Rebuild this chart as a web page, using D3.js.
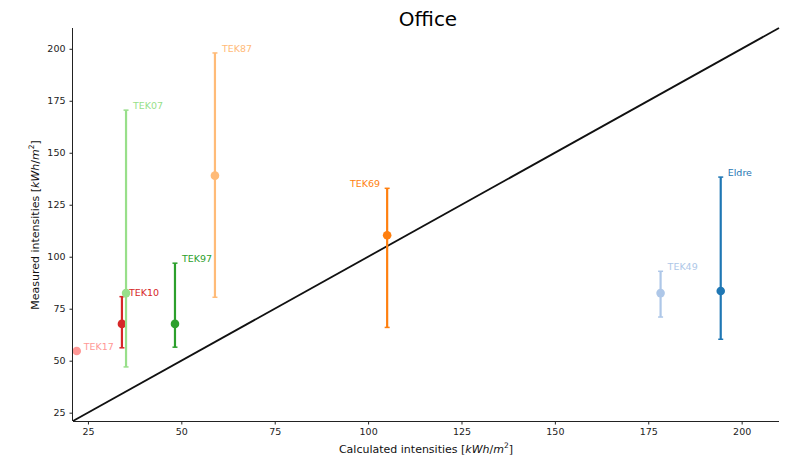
<!DOCTYPE html>
<html><head><meta charset="utf-8">
<script src="https://cdn.jsdelivr.net/npm/d3@7"></script>
<style>body{margin:0;background:#fff;} text{font-family:"DejaVu Sans",sans-serif;}</style>
</head><body>
<svg id="c" width="788" height="458"></svg>
<script>
const names = ["TEK17","TEK10","TEK07","TEK97","TEK87","TEK69","TEK49","Eldre"];
const calculated = [22.0, 34.1, 35.2, 48.3, 59.0, 105.1, 178.3, 194.4];
const measured = [54.7, 67.7, 82.5, 67.7, 139.0, 110.3, 82.5, 83.5];
const errLow = [null, 56.2, 47.0, 56.5, 80.5, 66.0, 71.0, 60.3];
const errHigh = [null, 80.8, 170.5, 96.9, 198.0, 132.9, 93.0, 138.3];
const colors = ["#ff9896","#d62728","#98df8a","#2ca02c","#ffbb78","#ff7f0e","#aec7e8","#1f77b4"];
const labelLeft = [false,false,false,false,false,true,false,false];
const xTicks = [25,50,75,100,125,150,175,200];
const yTicks = [25,50,75,100,125,150,175,200];
const domain = [21, 210];

const svg = d3.select("#c");
const L=73, R=779, T=28, B=421;
const x = d3.scaleLinear().domain(domain).range([L,R]);
const y = d3.scaleLinear().domain(domain).range([B,T]);

// identity line
svg.append("line").attr("x1",x(domain[0])).attr("y1",y(domain[0]))
  .attr("x2",x(domain[1])).attr("y2",y(domain[1]))
  .attr("stroke","#111").attr("stroke-width",1.8);

const data = names.map((n,i)=>({n,x:calculated[i],y:measured[i],lo:errLow[i],hi:errHigh[i],c:colors[i],left:labelLeft[i]}));
const g = svg.append("g");
data.forEach(d=>{
  if(d.lo!=null){
    g.append("line").attr("x1",x(d.x)).attr("x2",x(d.x)).attr("y1",y(d.lo)).attr("y2",y(d.hi))
      .attr("stroke",d.c).attr("stroke-width",2.2);
    [d.lo,d.hi].forEach(v=>g.append("line").attr("x1",x(d.x)-2.5).attr("x2",x(d.x)+2.5)
      .attr("y1",y(v)).attr("y2",y(v)).attr("stroke",d.c).attr("stroke-width",1.5));
  }
  g.append("circle").attr("cx",x(d.x)).attr("cy",y(d.y)).attr("r",4.3).attr("fill",d.c);
  const top = d.hi!=null ? y(d.hi) : y(d.y);
  g.append("text").attr("x", d.left ? x(d.x)-7 : x(d.x)+7).attr("y", top-1)
    .attr("text-anchor", d.left?"end":"start").attr("font-size",9.5).attr("fill",d.c).text(d.n);
});

const xa = svg.append("g").attr("transform",`translate(0,${B})`)
  .call(d3.axisBottom(x).tickValues(xTicks).tickSize(3.5).tickPadding(4));
const ya = svg.append("g").attr("transform",`translate(${L},0)`)
  .call(d3.axisLeft(y).tickValues(yTicks).tickSize(3.5).tickPadding(4));
[xa,ya].forEach(a=>{a.selectAll("text").attr("font-size",9.5).attr("fill","#222").attr("font-family","DejaVu Sans Condensed, DejaVu Sans");
  a.select(".domain").attr("stroke","#222").attr("stroke-width",1);
  a.selectAll(".tick line").attr("stroke","#222");});
// rebuild domain paths without outer ticks
xa.select(".domain").attr("d",`M${L},0.5H${R}`);
ya.select(".domain").attr("d",`M-0.5,${B}V${T}`);

svg.append("text").attr("x",428).attr("y",26).attr("text-anchor","middle").attr("font-size",20).attr("fill","#000").text("Office");

const xl = svg.append("text").attr("x",426).attr("y",453).attr("text-anchor","middle").attr("font-size",11).attr("fill","#111");
xl.append("tspan").text("Calculated intensities [");
xl.append("tspan").attr("font-style","italic").text("kWh");
xl.append("tspan").text("/");
xl.append("tspan").attr("font-style","italic").text("m");
xl.append("tspan").attr("font-size",7.5).attr("dy",-5).text("2");
xl.append("tspan").attr("dy",5).text("]");

const yl = svg.append("text").attr("transform","translate(39,225) rotate(-90)").attr("text-anchor","middle").attr("font-size",11).attr("fill","#111");
yl.append("tspan").text("Measured intensities [");
yl.append("tspan").attr("font-style","italic").text("kWh");
yl.append("tspan").text("/");
yl.append("tspan").attr("font-style","italic").text("m");
yl.append("tspan").attr("font-size",7.5).attr("dy",-5).text("2");
yl.append("tspan").attr("dy",5).text("]");
</script>
</body></html>
